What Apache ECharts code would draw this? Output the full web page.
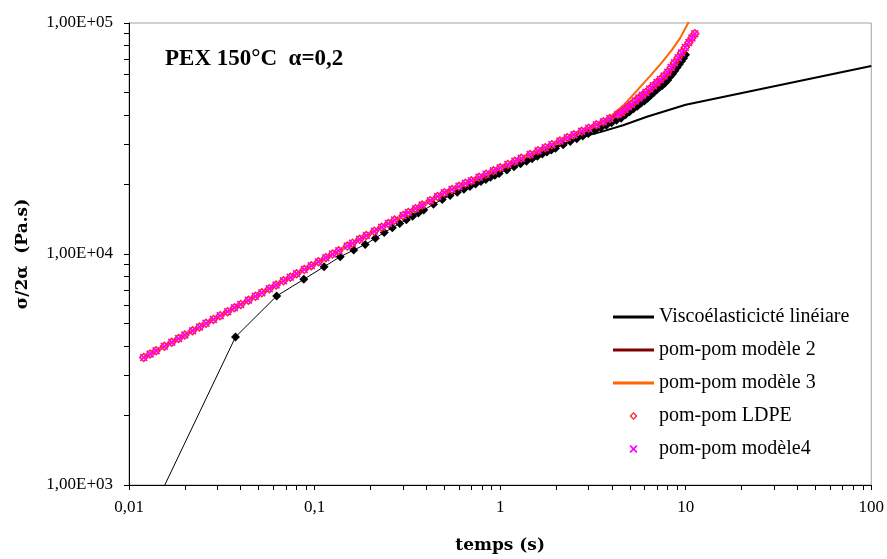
<!DOCTYPE html>
<html><head><meta charset="utf-8">
<script src="https://cdn.jsdelivr.net/npm/echarts@6/dist/echarts.min.js"></script>
<style>html,body{margin:0;padding:0;background:#fff}#c{width:887px;height:559px}</style>
</head><body><div id="c"></div>
<script>
// ---- tick labels ----
const xTickValues = [0.01, 0.1, 1, 10, 100];
const xTickLabels = ['0,01', '0,1', '1', '10', '100'];
const yTickValues = [1000, 10000, 100000];
const yTickLabels = ['1,00E+03', '1,00E+04', '1,00E+05'];
const xAllTicks = [0.01,0.02,0.03,0.04,0.05,0.06,0.07,0.08,0.09,0.1,0.2,0.3,0.4,0.5,0.6,0.7,0.8,0.9,1,2,3,4,5,6,7,8,9,10,20,30,40,50,60,70,80,90,100];
const yAllTicks = [1000,2000,3000,4000,5000,6000,7000,8000,9000,10000,20000,30000,40000,50000,60000,70000,80000,90000,100000];

// ---- experimental data (black diamonds) ----
const expTimes = [0.0125,0.0375,0.0625,0.0875,0.1125,0.1375,0.1625,0.1875,0.2125,0.2375,0.2625,0.2875,0.3125,0.3375,0.3625,0.3875,0.4375,0.4875,0.5375,0.5875,0.6375,0.6875,0.7375,0.7875,0.8375,0.8875,0.9375,0.9875,1.0875,1.1875,1.2875,1.3875,1.4875,1.5875,1.6875,1.7875,1.8875,1.9875,2.1875,2.3875,2.5875,2.7875,2.9875,3.2375,3.4875,3.7375,3.9875,4.2375,4.4875,4.7375,4.9875,5.2375,5.4875,5.7375,5.9875,6.2375,6.4875,6.7375,6.9875,7.2375,7.4875,7.7375,7.9875,8.2375,8.4875,8.7375,8.9875,9.2375,9.4875,9.7375,9.9875];
const expValues = [690,4375,6580,7770,8810,9730,10400,11000,11700,12400,12980,13560,14060,14560,15050,15510,16400,17230,17930,18520,19070,19590,20100,20590,21040,21490,21920,22330,23110,23850,24560,25230,25870,26490,27070,27630,28180,28710,29730,30680,31570,32440,33260,34250,35170,36110,37030,37920,38710,40100,41240,42580,43660,44950,45980,47240,48620,49990,51350,52680,53700,55010,56500,58510,60200,62200,64230,66280,68320,70340,72800];

// ---- viscoélasticité linéaire ----
const lveTimes = [0.5, 1, 2, 3, 3.46, 4.6, 6.18, 10, 100];
const lveValues = [17600, 22600, 29200, 32700, 33700, 36100, 39300, 44300, 65100];

// ---- pom-pom modèle 2 ----
const m2Times = [0.012,0.02,0.04,0.08,0.15,0.3,0.5,1,2,3,4,5,6,7,8,9,10];
const m2Values = [3560,4460,6050,8210,10820,14690,18410,23600,30300,35000,39000,43300,48000,54500,60000,68000,76000];

// ---- pom-pom modèle 3 ----
const m3Times = [0.012,0.02,0.04,0.08,0.15,0.3,0.5,1,2,3,3.5,3.92,4.62,5.46,6.44,7.45,8.43,9.33,10.35,10.5];
const m3Values = [3560,4460,6050,8210,10820,14690,18410,23600,30300,35200,37300,39300,44000,51000,59000,67500,76500,86000,100500,104000];

// ---- pom-pom LDPE & modèle4 (markers) ----
const bandTimes = [0.012,0.013,0.014,0.0155,0.017,0.0185,0.02,0.022,0.024,0.026,0.0285,0.031,0.034,0.037,0.04,0.044,0.048,0.052,0.057,0.062,0.068,0.074,0.08,0.088,0.096,0.105,0.115,0.125,0.135,0.15,0.16,0.175,0.19,0.21,0.23,0.25,0.27,0.3,0.32,0.35,0.38,0.42,0.46,0.5,0.55,0.6,0.65,0.7,0.77,0.84,0.92,1.0,1.1,1.2,1.3,1.45,1.6,1.75,1.9,2.1,2.3,2.5,2.75,3.0,3.3,3.6,3.9,4.3,4.5,4.7,4.9,5.1,5.35,5.6,5.85,6.1,6.4,6.7,7.0,7.3,7.65,8.0,8.35,8.7,9.1,9.5,9.95,10.4,10.8,11.2];
const ldpeValues = [3560,3690,3810,3990,4150,4310,4460,4650,4830,5010,5210,5410,5630,5850,6050,6310,6555,6790,7070,7340,7650,7930,8210,8560,8890,9250,9640,9990,10330,10820,11140,11590,12020,12560,13060,13550,14020,14690,15110,15710,16300,17020,17740,18410,19030,19630,20220,20760,21480,22160,22910,23600,24430,25210,25940,26980,27960,28870,29740,30830,31860,32830,33970,35060,36280,37410,38640,40150,41020,42210,43370,44520,45940,47330,48700,50040,51770,53560,55270,57000,58990,61190,64230,67300,70810,74340,78390,82410,86070,89740];
const modele4Values = [3560,3690,3810,3990,4150,4310,4460,4650,4830,5010,5210,5410,5630,5850,6050,6310,6555,6790,7070,7340,7650,7930,8210,8560,8890,9250,9640,9990,10330,10820,11140,11590,12020,12560,13060,13550,14020,14690,15110,15710,16300,17020,17740,18410,19030,19630,20220,20760,21480,22160,22910,23600,24430,25210,25940,26980,27960,28870,29740,30830,31860,32830,33970,35060,36280,37410,38640,40150,41020,42210,43370,44520,45940,47330,48700,50040,51770,53560,55270,57000,58990,61190,64230,67300,70810,74340,78390,82410,86070,89740];

const pair = (t, v) => t.map((x, i) => [x, v[i]]);
const serif = '"Liberation Serif", "Times New Roman", serif';
const lab = (vals, labels) => v => {
  const i = vals.findIndex(t => Math.abs(t - v) / t < 1e-6);
  return i >= 0 ? labels[i] : '';
};
const diamondRing = 'path://M5,0L10,5L5,10L0,5Z M5,2.2L2.2,5L5,7.8L7.8,5Z';
const xMark = 'path://M0,1.5L1.5,0L5,3.5L8.5,0L10,1.5L6.5,5L10,8.5L8.5,10L5,6.5L1.5,10L0,8.5L3.5,5Z';
const lineIcon = 'path://M0,0H41V3H0Z';

const chart = echarts.init(document.getElementById('c'), null, {renderer: 'canvas'});
chart.setOption({
  animation: false,
  backgroundColor: '#ffffff',
  title: {
    text: 'PEX 150°C  α=0,2', left: 165, top: 48, padding: 0,
    textStyle: {fontFamily: serif, fontWeight: 'bold', fontSize: 23, color: '#000'}
  },
  grid: {left: 129, top: 23, width: 743, height: 462, show: true, borderColor: '#a0a0a0', borderWidth: 1},
  legend: {
    orient: 'vertical', left: 613, top: 307, padding: 0,
    itemWidth: 41, itemHeight: 8, itemGap: 13, selectedMode: false,
    textStyle: {fontFamily: serif, fontSize: 20, lineHeight: 20, color: '#000'},
    data: [
      {name: 'Viscoélasticicté linéiare', icon: lineIcon},
      {name: 'pom-pom modèle 2', icon: lineIcon},
      {name: 'pom-pom modèle 3', icon: lineIcon},
      {name: 'pom-pom LDPE', icon: diamondRing},
      {name: 'pom-pom modèle4', icon: xMark}
    ]
  },
  xAxis: {
    type: 'log', logBase: 10, min: 0.01, max: 100,
    name: 'temps (s)', nameLocation: 'middle', nameGap: 52,
    nameTextStyle: {fontFamily: '"DejaVu Serif", serif', fontWeight: 'bold', fontSize: 17, color: '#000'},
    axisLine: {lineStyle: {color: '#000', width: 1}},
    axisTick: {show: true, customValues: xAllTicks, length: 5, lineStyle: {color: '#000', width: 1}},
    axisLabel: {customValues: xTickValues, formatter: lab(xTickValues, xTickLabels), margin: 14,
      fontFamily: serif, fontSize: 17, color: '#000'},
    splitLine: {show: false}
  },
  yAxis: {
    type: 'log', logBase: 10, min: 1000, max: 100000,
    name: 'σ/2α  (Pa.s)', nameLocation: 'middle', nameGap: 98, nameRotate: 90,
    nameTextStyle: {fontFamily: '"DejaVu Serif", serif', fontWeight: 'bold', fontSize: 17, color: '#000'},
    axisLine: {lineStyle: {color: '#000', width: 1}},
    axisTick: {show: true, customValues: yAllTicks, length: 5, lineStyle: {color: '#000', width: 1}},
    axisLabel: {customValues: yTickValues, formatter: lab(yTickValues, yTickLabels), margin: 16,
      fontFamily: serif, fontSize: 17, color: '#000'},
    splitLine: {show: false}
  },
  series: [
    {name: 'Expérience', type: 'line', data: pair(expTimes, expValues),
     symbol: 'diamond', symbolSize: 9, showSymbol: true,
     itemStyle: {color: '#000'}, lineStyle: {color: '#000', width: 1}, z: 2},
    {name: 'Viscoélasticicté linéiare', type: 'line', data: pair(lveTimes, lveValues),
     symbol: 'none', color: '#000', itemStyle: {color: '#000'}, lineStyle: {color: '#000', width: 2}, z: 3},
    {name: 'pom-pom modèle 2', type: 'line', data: pair(m2Times, m2Values),
     symbol: 'none', color: '#800000', itemStyle: {color: '#800000'}, lineStyle: {color: '#800000', width: 2}, z: 4},
    {name: 'pom-pom modèle 3', type: 'line', data: pair(m3Times, m3Values),
     symbol: 'none', color: '#ff6600', itemStyle: {color: '#ff6600'}, lineStyle: {color: '#ff6600', width: 2}, z: 5},
    {name: 'pom-pom LDPE', type: 'scatter', data: pair(bandTimes, ldpeValues),
     symbol: diamondRing, symbolSize: 10, itemStyle: {color: '#ff2020', opacity: 1}, z: 6},
    {name: 'pom-pom modèle4', type: 'scatter', data: pair(bandTimes, modele4Values),
     symbol: xMark, symbolSize: 8, itemStyle: {color: '#ff00ff', opacity: 1}, z: 7}
  ]
});
</script></body></html>
